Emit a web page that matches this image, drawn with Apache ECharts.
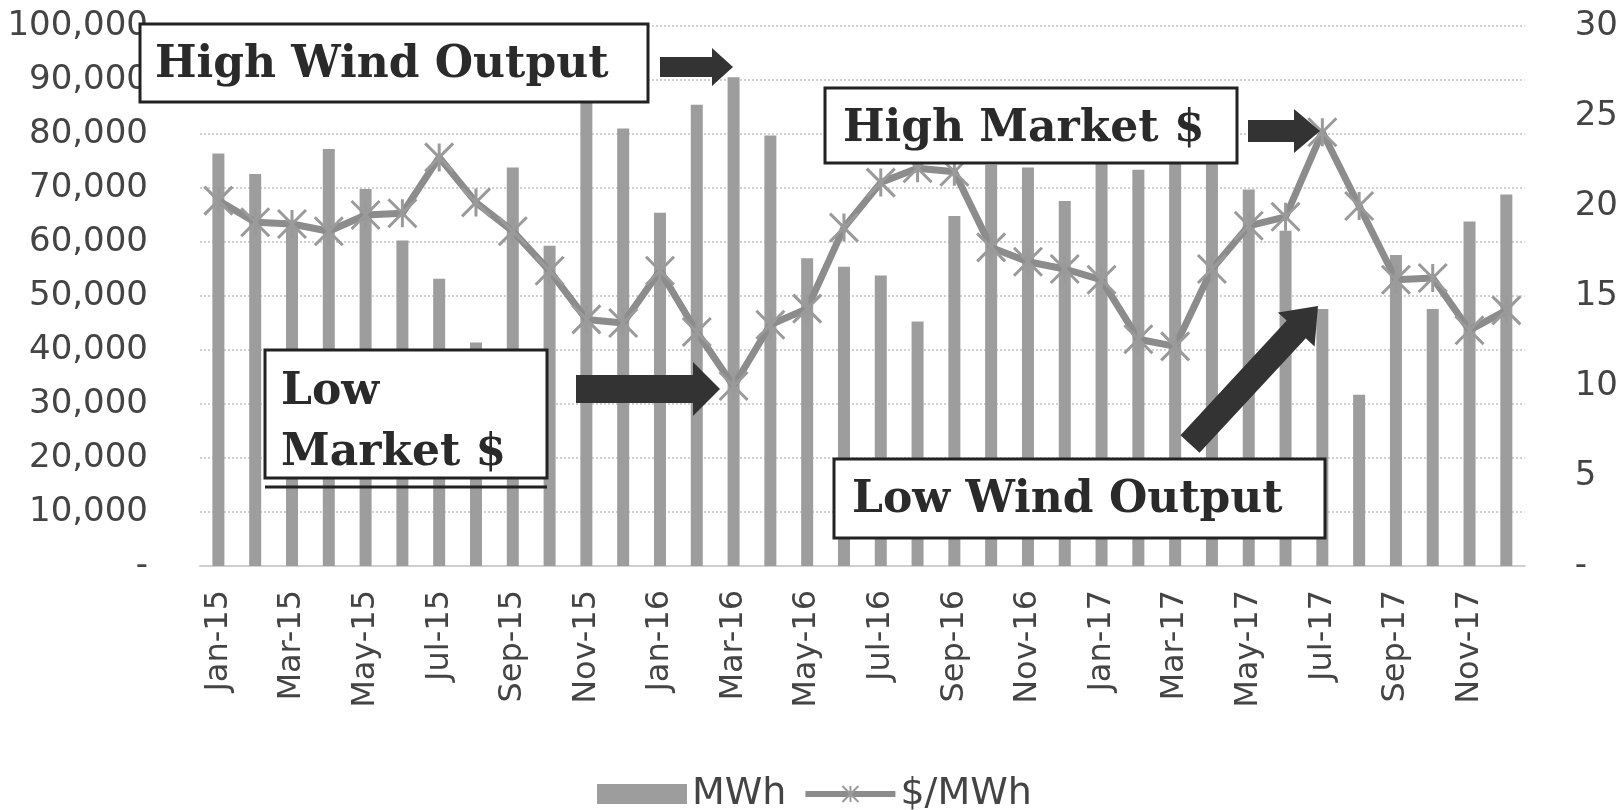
<!DOCTYPE html>
<html>
<head>
<meta charset="utf-8">
<title>Wind output vs market price</title>
<script src="https://cdn.jsdelivr.net/npm/echarts@6/dist/echarts.min.js"></script>
<style>
    html, body { margin: 0; padding: 0; background: #fff; }
    #chart1 { width: 1621px; height: 810px; }
</style>
</head>
<body>
<div id="chart1"></div>
<script>
// months Jan-15 .. Dec-17
var months = ['Jan-15','Feb-15','Mar-15','Apr-15','May-15','Jun-15','Jul-15','Aug-15','Sep-15','Oct-15','Nov-15','Dec-15',
              'Jan-16','Feb-16','Mar-16','Apr-16','May-16','Jun-16','Jul-16','Aug-16','Sep-16','Oct-16','Nov-16','Dec-16',
              'Jan-17','Feb-17','Mar-17','Apr-17','May-17','Jun-17','Jul-17','Aug-17','Sep-17','Oct-17','Nov-17','Dec-17'];
// wind output, MWh (left axis)
var mwh = [76400, 72600, 63500, 77200, 69800, 60300, 53200, 41400, 73800, 59300, 86200, 81000,
           65400, 85400, 90500, 79700, 57000, 55400, 53800, 45300, 64800, 74300, 73800, 67600,
           75500, 73400, 75000, 75500, 69700, 62100, 47600, 31700, 57600, 47600, 63800, 68800];
// market price, $/MWh (right axis)
var price = [20.3, 19.1, 19.0, 18.6, 19.5, 19.6, 22.7, 20.2, 18.6, 16.4, 13.7, 13.5,
             16.4, 13.0, 10.0, 13.4, 14.3, 18.8, 21.3, 22.1, 21.9, 17.7, 16.9, 16.5,
             15.9, 12.6, 12.2, 16.5, 18.9, 19.4, 24.1, 20.0, 15.9, 16.0, 13.1, 14.2];

var leftMax = 100000, leftStep = 10000;
var rightMax = 30, rightStep = 5;

function arrowPts(x0, y0, x1, y1, bt, ht, hl) {
    var dx = x1 - x0, dy = y1 - y0;
    var len = Math.sqrt(dx * dx + dy * dy);
    var ux = dx / len, uy = dy / len, nx = -uy, ny = ux;
    var bx = x1 - ux * hl, by = y1 - uy * hl;
    return [
        [x0 + nx * bt, y0 + ny * bt], [bx + nx * bt, by + ny * bt], [bx + nx * ht, by + ny * ht],
        [x1, y1],
        [bx - nx * ht, by - ny * ht], [bx - nx * bt, by - ny * bt], [x0 - nx * bt, y0 - ny * bt]
    ];
}

function box(x, y, w, h) {
    return {type: 'rect', z: 100, shape: {x: x, y: y, width: w, height: h},
            style: {fill: '#fff', stroke: '#222', lineWidth: 3}};
}
function label(x, y, txt) {
    return {type: 'text', z: 101, x: x, y: y,
            style: {text: txt, fill: '#2a2a2a', fontFamily: 'DejaVu Serif', fontWeight: 'bold',
                     fontSize: 44, verticalAlign: 'middle'}};
}
function arrow(pts) {
    return {type: 'polygon', z: 100, shape: {points: pts}, style: {fill: '#333'}};
}

var axisFont = {fontFamily: 'DejaVu Sans', fontSize: 34, color: '#444'};
var xMark = 'path://M0,0L10,10M10,0L0,10M5,0L5,10';

function setchart(chartName) {
    var myChart = echarts.init(document.getElementById(chartName));
    var option = {
        animation: false,
        backgroundColor: '#fff',
        grid: {left: 200, right: 95, top: 26, bottom: 244},
        legend: {
            left: 592, top: 770,
            itemWidth: 90, itemHeight: 20, itemGap: 16,
            textStyle: {fontFamily: 'DejaVu Sans', fontSize: 38, color: '#444'},
            lineStyle: {width: 6},
            data: [{name: 'MWh', icon: 'rect'}, {name: '$/MWh'}]
        },
        xAxis: {
            type: 'category',
            data: months,
            axisLine: {lineStyle: {color: '#cfcfcf', width: 2}},
            axisTick: {length: 10, lineStyle: {color: '#cfcfcf', width: 2}},
            axisLabel: Object.assign({rotate: 90, interval: 1, margin: 24}, axisFont, {fontSize: 32})
        },
        yAxis: [
            {
                type: 'value', min: 0, max: leftMax, interval: leftStep,
                axisLine: {show: false}, axisTick: {show: false},
                axisLabel: Object.assign({margin: 52, formatter: function (v) {
                    return v === 0 ? '-' : v.toLocaleString('en-US');
                }}, axisFont),
                splitLine: {lineStyle: {color: '#d2d2d2', width: 2, type: 'dotted'}}
            },
            {
                type: 'value', min: 0, max: rightMax, interval: rightStep,
                axisLine: {show: false}, axisTick: {show: false},
                axisLabel: Object.assign({margin: 50, formatter: function (v) {
                    return v === 0 ? '-' : String(v);
                }}, axisFont),
                splitLine: {show: false}
            }
        ],
        series: [
            {
                name: 'MWh', type: 'bar', data: mwh, barWidth: 12,
                itemStyle: {color: '#9d9d9d'}
            },
            {
                name: '$/MWh', type: 'line', yAxisIndex: 1, data: price, z: 5,
                symbol: xMark, symbolSize: 28, showAllSymbol: true,
                lineStyle: {color: '#8c8c8c', width: 7},
                itemStyle: {color: 'rgba(0,0,0,0)', borderColor: '#9a9a9a', borderWidth: 3}
            }
        ],
        graphic: [
            box(140, 24, 508, 78), label(155, 66, 'High Wind Output'),
            arrow(arrowPts(660, 67, 733, 67, 10, 19, 21)),
            box(825, 88, 412, 75), label(843, 130, 'High Market $'),
            arrow(arrowPts(1248, 131, 1320, 131, 11, 22, 26)),
            box(265, 350, 282, 128), label(281, 393, 'Low'), label(281, 454, 'Market $'),
            {type: 'line', z: 100, shape: {x1: 265, y1: 487, x2: 547, y2: 487}, style: {stroke: '#222', lineWidth: 3}},
            arrow(arrowPts(576, 389, 720, 389, 14, 27, 27)),
            box(834, 459, 491, 79), label(852, 501, 'Low Wind Output'),
            arrow(arrowPts(1190, 444, 1318, 306, 13, 25, 32))
        ]
    };
    myChart.setOption(option);
}

setchart('chart1');
</script>
</body>
</html>
